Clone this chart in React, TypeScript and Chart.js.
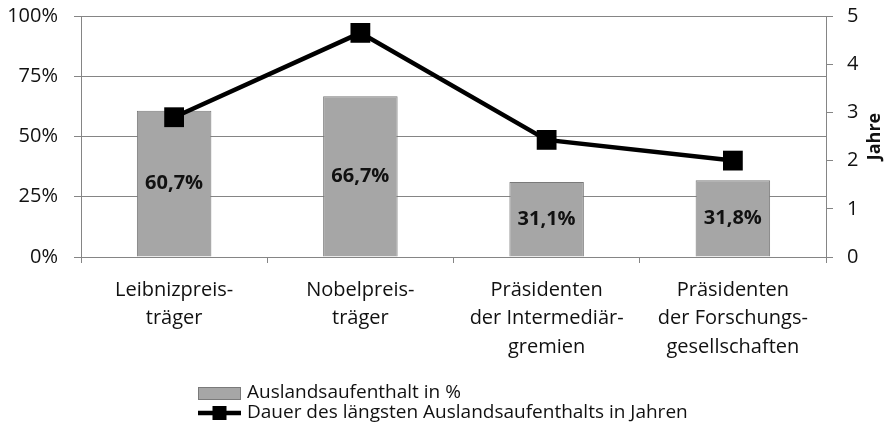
import React, { useEffect, useRef } from "react";
import { Chart, registerables } from "chart.js";

Chart.register(...registerables);

const categories: string[][] = [
  ["Leibnizpreis-", "träger"],
  ["Nobelpreis-", "träger"],
  ["Präsidenten", "der Intermediär-", "gremien"],
  ["Präsidenten", "der Forschungs-", "gesellschaften"],
];
const auslandsaufenthalt: number[] = [60.7, 66.7, 31.1, 31.8];
const dauerJahre: number[] = [2.9, 4.65, 2.43, 2.0];
const barLabels: string[] = ["60,7%", "66,7%", "31,1%", "31,8%"];
const seriesNames: string[] = [
  "Auslandsaufenthalt in %",
  "Dauer des längsten Auslandsaufenthalts in Jahren",
];
const rightAxisTitle = "Jahre";

const FONT = "'Open Sans', sans-serif";
const GRID = "#858585";
const BAR = "#a6a6a6";
const BAR_BORDER = "#7a7a7a";
const TEXT = "#111";

const barLabelPlugin = {
  id: "barLabelPlugin",
  afterDatasetsDraw(chart: any) {
    const meta = chart.getDatasetMeta(0);
    const ctx = chart.ctx;
    ctx.save();
    ctx.font = `bold 20px ${FONT}`;
    ctx.fillStyle = TEXT;
    ctx.textAlign = "center";
    ctx.textBaseline = "middle";
    meta.data.forEach((el: any, i: number) => {
      const y = (el.y + el.base) / 2;
      ctx.fillText(barLabels[i], el.x, y);
    });
    ctx.restore();
  },
};

const titlePlugin = {
  id: "rightTitle",
  afterDraw(chart: any) {
    const ctx = chart.ctx;
    const area = chart.chartArea;
    ctx.save();
    ctx.translate(875, (area.top + area.bottom) / 2);
    ctx.rotate(-Math.PI / 2);
    ctx.font = `bold 18px ${FONT}`;
    ctx.fillStyle = TEXT;
    ctx.textAlign = "center";
    ctx.textBaseline = "middle";
    ctx.fillText(rightAxisTitle, 0, 0);
    ctx.restore();
  },
};

const legendPlugin = {
  id: "customLegend",
  afterDraw(chart: any) {
    const ctx = chart.ctx;
    ctx.save();
    const x0 = 198;
    const textX = 247;
    const y1 = 393;
    const y2 = 413;
    ctx.fillStyle = BAR;
    ctx.strokeStyle = BAR_BORDER;
    ctx.lineWidth = 1;
    ctx.fillRect(x0, y1 - 6, 43, 13);
    ctx.strokeRect(x0 + 0.5, y1 - 6 + 0.5, 42, 12);
    ctx.strokeStyle = "#000";
    ctx.lineWidth = 4.5;
    ctx.beginPath();
    ctx.moveTo(x0, y2);
    ctx.lineTo(x0 + 43, y2);
    ctx.stroke();
    ctx.fillStyle = "#000";
    ctx.fillRect(x0 + 21.5 - 7, y2 - 7, 14, 14);
    ctx.font = `19px ${FONT}`;
    ctx.fillStyle = TEXT;
    ctx.textAlign = "left";
    ctx.textBaseline = "middle";
    ctx.fillText(seriesNames[0], textX, y1);
    ctx.fillText(seriesNames[1], textX, y2);
    ctx.restore();
  },
};

export default function App() {
  const canvasRef = useRef<HTMLCanvasElement | null>(null);

  useEffect(() => {
    document.body.style.margin = "0";
    const canvas = canvasRef.current;
    if (!canvas) return;
    const chart = new Chart(canvas, {
      type: "bar",
      data: {
        labels: categories,
        datasets: [
          {
            type: "bar",
            label: seriesNames[0],
            data: auslandsaufenthalt,
            backgroundColor: BAR,
            borderColor: BAR_BORDER,
            borderWidth: 1,
            barPercentage: 0.4,
            categoryPercentage: 1,
            yAxisID: "y",
            order: 2,
          },
          {
            type: "line",
            label: seriesNames[1],
            data: dauerJahre,
            borderColor: "#000",
            backgroundColor: "#000",
            borderWidth: 4.5,
            pointStyle: "rect",
            pointRadius: 14,
            pointBorderWidth: 0,
            pointBackgroundColor: "#000",
            tension: 0,
            yAxisID: "y1",
            order: 1,
          },
        ],
      },
      options: {
        responsive: false,
        animation: false,
        devicePixelRatio: 1,
        layout: { padding: { left: 0, right: 0, top: 16, bottom: 0 } },
        plugins: {
          legend: { display: false },
          tooltip: { enabled: false },
        },
        scales: {
          x: {
            grid: {
              display: true,
              drawOnChartArea: false,
              drawTicks: true,
              tickLength: 6,
              color: GRID,
              offset: true,
            },
            border: { display: true, color: GRID, width: 1 },
            ticks: {
              color: TEXT,
              font: { family: FONT, size: 20, lineHeight: 1.42 },
              padding: 13,
              maxRotation: 0,
              autoSkip: false,
            },
            afterFit(scale: any) {
              scale.height = 435 - 257;
              scale.paddingLeft = 0;
              scale.paddingRight = 0;
            },
          },
          y: {
            position: "left",
            min: 0,
            max: 100,
            ticks: {
              stepSize: 25,
              color: TEXT,
              padding: 16,
              font: { family: FONT, size: 20 },
              callback: (v: any) => `${v}%`,
            },
            grid: { color: GRID, tickLength: 7, lineWidth: 1 },
            border: { display: true, color: GRID },
            afterFit(scale: any) {
              scale.width = 81;
              scale.paddingTop = 0;
              scale.paddingBottom = 0;
            },
          },
          y1: {
            position: "right",
            min: 0,
            max: 5,
            ticks: {
              stepSize: 1,
              color: TEXT,
              padding: 14,
              font: { family: FONT, size: 20 },
            },
            grid: {
              drawOnChartArea: false,
              drawTicks: true,
              tickLength: 7,
              color: GRID,
            },
            border: { display: true, color: GRID },
            afterFit(scale: any) {
              scale.width = 887 - 826;
              scale.paddingTop = 0;
              scale.paddingBottom = 0;
            },
          },
        },
      },
      plugins: [barLabelPlugin, titlePlugin, legendPlugin],
    });
    return () => chart.destroy();
  }, []);

  return (
    <div style={{ width: 887, height: 435 }}>
      <canvas ref={canvasRef} width={887} height={435} style={{ display: "block" }} />
    </div>
  );
}
